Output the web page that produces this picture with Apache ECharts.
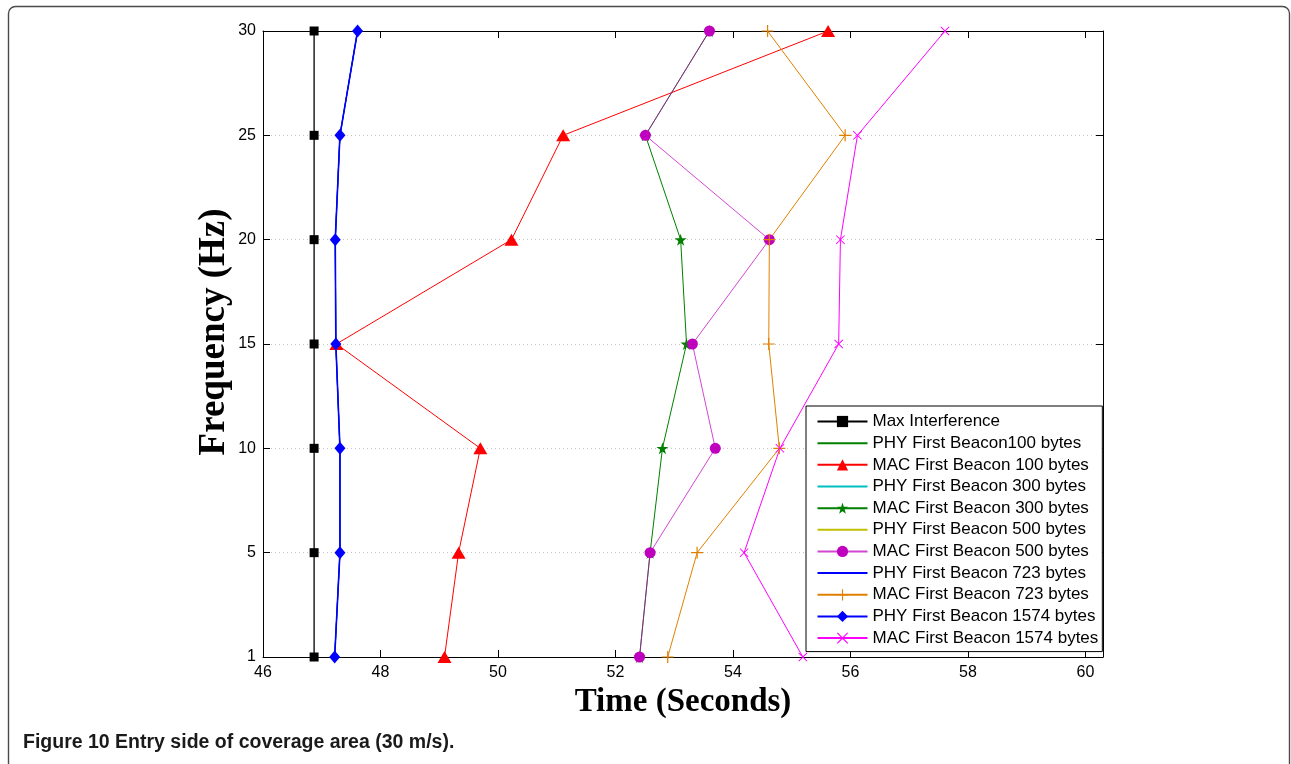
<!DOCTYPE html>
<html>
<head>
<meta charset="utf-8">
<script src="https://cdn.jsdelivr.net/npm/echarts@6/dist/echarts.min.js"></script>
<style>
  html, body { margin: 0; padding: 0; background: #ffffff; }
  #chart { width: 1291px; height: 764px; }
</style>
</head>
<body>
<div id="chart"></div>
<script>
// Frequency categories (Hz), bottom to top
const categories = ['1', '5', '10', '15', '20', '25', '30'];
// x tick labels
const xTicks = [46, 48, 50, 52, 54, 56, 58, 60];

// Series values (Time in seconds), ordered by categories
const maxInterference = [46.87, 46.87, 46.87, 46.87, 46.87, 46.87, 46.87];
const phy100  = [47.22, 47.31, 47.31, 47.24, 47.23, 47.31, 47.61];
const mac100  = [49.09, 49.33, 49.70, 47.25, 50.23, 51.11, 55.62];
const phy300  = [47.22, 47.31, 47.31, 47.24, 47.23, 47.31, 47.61];
const mac300  = [52.41, 52.59, 52.80, 53.21, 53.11, 52.51, 53.60];
const phy500  = [47.22, 47.31, 47.31, 47.24, 47.23, 47.31, 47.61];
const mac500  = [52.41, 52.59, 53.70, 53.31, 54.62, 52.51, 53.60];
const phy723  = [47.22, 47.31, 47.31, 47.24, 47.23, 47.31, 47.61];
const mac723  = [52.89, 53.39, 54.79, 54.61, 54.62, 55.91, 54.59];
const phy1574 = [47.22, 47.31, 47.31, 47.24, 47.23, 47.31, 47.61];
const mac1574 = [55.19, 54.19, 54.80, 55.80, 55.83, 56.12, 57.61];

const seriesNames = [
  'Max Interference',
  'PHY First Beacon100 bytes',
  'MAC First Beacon 100 bytes',
  'PHY First Beacon 300 bytes',
  'MAC First Beacon 300 bytes',
  'PHY First Beacon 500 bytes',
  'MAC First Beacon 500 bytes',
  'PHY First Beacon 723 bytes',
  'MAC First Beacon 723 bytes',
  'PHY First Beacon 1574 bytes',
  'MAC First Beacon 1574 bytes'
];

const STAR = 'path://M50,0 L61,35 L98,35 L68,57 L79,91 L50,70 L21,91 L32,57 L2,35 L39,35 Z';
const PLUS = 'path://M45,0 L55,0 L55,45 L100,45 L100,55 L55,55 L55,100 L45,100 L45,55 L0,55 L0,45 L45,45 Z';
const CROSS = 'path://M7,0 L50,43 L93,0 L100,7 L57,50 L100,93 L93,100 L50,57 L7,100 L0,93 L43,50 L0,7 Z';

function mk(name, data, color, opts) {
  opts = opts || {};
  const hasSym = !!opts.symbol;
  return {
    name: name,
    type: 'line',
    data: data,
    xAxisIndex: 0,
    yAxisIndex: 0,
    z: opts.z != null ? opts.z : 2,
    symbol: opts.symbol || 'none',
    symbolSize: opts.size || 10,
    showSymbol: hasSym,
    animation: false,
    lineStyle: { color: color, width: opts.width || 1, opacity: opts.opacity != null ? opts.opacity : 1 },
    itemStyle: { color: hasSym ? color : 'rgba(0,0,0,0)', opacity: 1 },
    emphasis: { disabled: true }
  };
}

const chart = echarts.init(document.getElementById('chart'), null, { renderer: 'canvas' });

const option = {
  backgroundColor: '#ffffff',
  animation: false,
  grid: { left: 263, top: 31, right: 188, bottom: 107, containLabel: false },
  xAxis: [
    {
      type: 'value', position: 'bottom', min: 46, max: 60.3, interval: 2,
      axisLine: { show: true, onZero: false, lineStyle: { color: '#000', width: 1 } },
      axisTick: { show: true, inside: true, length: 7, lineStyle: { color: '#000' } },
      axisLabel: {
        show: true, color: '#000', fontFamily: 'Liberation Sans, Arial, sans-serif', fontSize: 16, margin: 8,
        formatter: function (v) { return xTicks.indexOf(Math.round(v * 1000) / 1000) >= 0 ? String(v) : ''; }
      },
      splitLine: { show: false },
      name: 'Time (Seconds)', nameLocation: 'middle', nameGap: 22,
      nameTextStyle: { color: '#000', fontFamily: 'Liberation Serif, Times New Roman, serif', fontWeight: 'bold', fontSize: 33 }
    },
    {
      type: 'value', position: 'top', min: 46, max: 60.3, interval: 2,
      axisLine: { show: true, onZero: false, lineStyle: { color: '#000', width: 1 } },
      axisTick: { show: true, inside: true, length: 7, lineStyle: { color: '#000' } },
      axisLabel: { show: false },
      splitLine: { show: false }
    }
  ],
  yAxis: [
    {
      type: 'category', data: categories, boundaryGap: false, position: 'left',
      axisLine: { show: true, onZero: false, lineStyle: { color: '#000', width: 1 } },
      axisTick: { show: true, inside: true, length: 7, alignWithLabel: true, lineStyle: { color: '#000' } },
      axisLabel: { show: true, color: '#000', fontFamily: 'Liberation Sans, Arial, sans-serif', fontSize: 16, margin: 7 },
      splitLine: { show: true, lineStyle: { color: '#c4c4c4', width: 1, type: [1, 3] } },
      name: 'Frequency (Hz)', nameLocation: 'middle', nameGap: 30, nameRotate: 90,
      nameMoveOverlap: false,
      nameTextStyle: {
        color: '#000', fontFamily: 'Liberation Serif, Times New Roman, serif', fontWeight: 'bold', fontSize: 37,
        padding: [0, 0, 0, 24]
      }
    },
    {
      type: 'category', data: categories, boundaryGap: false, position: 'right',
      axisLine: { show: true, onZero: false, lineStyle: { color: '#000', width: 1 } },
      axisTick: { show: true, inside: true, length: 7, lineStyle: { color: '#000' } },
      axisLabel: { show: false },
      splitLine: { show: false }
    }
  ],
  legend: {
    show: true,
    orient: 'vertical',
    left: 806, top: 406,
    padding: [7, 4, 5, 10.5],
    itemGap: 4.66,
    itemWidth: 50, itemHeight: 14,
    backgroundColor: '#ffffff',
    borderColor: '#000', borderWidth: 1, borderRadius: 0,
    selectedMode: false,
    textStyle: { color: '#000', fontFamily: 'Liberation Sans, Arial, sans-serif', fontSize: 17 },
    data: seriesNames
  },
  series: [
    mk(seriesNames[0], maxInterference, '#000000', { symbol: 'rect', size: 9, width: 1.3 }),
    mk(seriesNames[1], phy100, '#008000', { z: 1 }),
    mk(seriesNames[2], mac100, '#ff0000', { symbol: 'triangle', size: [14, 12] }),
    mk(seriesNames[3], phy300, '#00bfbf', { z: 1 }),
    mk(seriesNames[4], mac300, '#008000', { symbol: STAR, size: 12 }),
    mk(seriesNames[5], phy500, '#bfbf00', { z: 1 }),
    mk(seriesNames[6], mac500, '#bf00bf', { symbol: 'circle', size: 11, opacity: 0.72 }),
    mk(seriesNames[7], phy723, '#0000ff', { z: 1 }),
    mk(seriesNames[8], mac723, '#e08000', { symbol: PLUS, size: 12 }),
    mk(seriesNames[9], phy1574, '#0000ff', { symbol: 'diamond', size: [11, 13], width: 1.6 }),
    mk(seriesNames[10], mac1574, '#ff00ff', { symbol: CROSS, size: 9 })
  ],
  graphic: [
    {
      type: 'rect', silent: true, z: 0,
      shape: { x: 8.5, y: 6.5, width: 1281, height: 820, r: 7 },
      style: { fill: 'none', stroke: '#4a4a4a', lineWidth: 1.4 }
    },
    {
      type: 'text', silent: true, z: 10,
      x: 23, y: 743,
      style: {
        text: 'Figure 10 Entry side of coverage area (30 m/s).',
        fill: '#1a1a1a',
        font: 'bold 19.5px "Liberation Sans", Arial, sans-serif',
        verticalAlign: 'middle', align: 'left'
      }
    }
  ]
};

chart.setOption(option);
</script>
</body>
</html>
